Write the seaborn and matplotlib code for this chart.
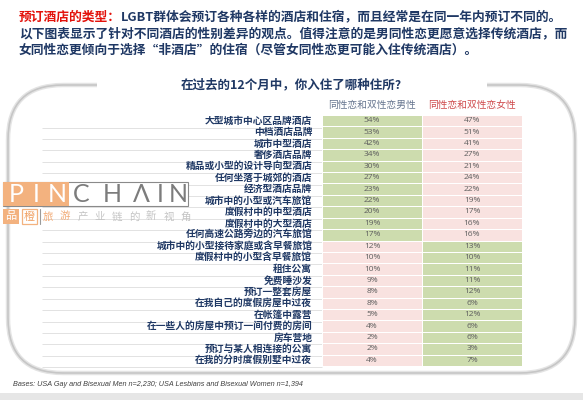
import numpy as np
import pandas as pd
import matplotlib
matplotlib.use("Agg")
import matplotlib.pyplot as plt
from matplotlib.colors import ListedColormap
from matplotlib.patches import FancyBboxPatch, Rectangle
import seaborn as sns

# ---------------- data ----------------
categories = [
    "大型城市中心区品牌酒店", "中档酒店品牌", "城市中型酒店", "奢侈酒店品牌",
    "精品或小型的设计导向型酒店", "任何坐落于城郊的酒店", "经济型酒店品牌",
    "城市中的小型或汽车旅馆", "度假村中的中型酒店", "度假村中的大型酒店",
    "任何高速公路旁边的汽车旅馆", "城市中的小型接待家庭或含早餐旅馆",
    "度假村中的小型含早餐旅馆", "租住公寓", "免费睡沙发", "预订一整套房屋",
    "在我自己的度假房屋中过夜", "在帐篷中露营", "在一些人的房屋中预订一间付费的房间",
    "房车营地", "预订与某人相连接的公寓", "在我的分时度假别墅中过夜",
]
men = [54, 53, 42, 34, 30, 27, 23, 22, 20, 19, 17, 12, 10, 10, 9, 8, 8, 5, 4, 2, 2, 4]
women = [47, 51, 41, 27, 21, 24, 22, 19, 17, 16, 16, 13, 10, 11, 11, 12, 6, 12, 6, 6, 3, 7]
highlight = ["men"] * 11 + ["women"] * 11
columns = ["同性恋和双性恋男性", "同性恋和双性恋女性"]

title_red = "预订酒店的类型："
title_l1 = "LGBT群体会预订各种各样的酒店和住宿，而且经常是在同一年内预订不同的。"
title_l2 = "以下图表显示了针对不同酒店的性别差异的观点。值得注意的是男同性恋更愿意选择传统酒店，而"
title_l3 = "女同性恋更倾向于选择“非酒店”的住宿（尽管女同性恋更可能入住传统酒店）。"
chart_title = "在过去的12个月中，你入住了哪种住所?"
footer = "Bases: USA Gay and Bisexual Men n=2,230; USA Lesbians and Bisexual Women n=1,394"

# ---------------- style ----------------
sns.set_style("white")
plt.rcParams["font.family"] = ["Noto Sans CJK SC", "DejaVu Sans"]

NAVY = "#1f3864"
RED = "#e3120b"
GREEN = "#cddcae"
PINK = "#f9e2e0"
W, H = 583, 400

fig = plt.figure(figsize=(W / 100, H / 100), dpi=100)

# background overlay in pixel coordinates
bg = fig.add_axes([0, 0, 1, 1], zorder=0)
bg.set_xlim(0, W)
bg.set_ylim(H, 0)
bg.axis("off")

# rounded frame
bg.add_patch(FancyBboxPatch((8, 85), 567, 288, boxstyle="round,pad=0,rounding_size=55",
                            fill=False, ec="#e4e4e4", lw=3.2))
bg.add_patch(FancyBboxPatch((8, 85), 567, 288, boxstyle="round,pad=0,rounding_size=55",
                            fill=False, ec="#c6c6c6", lw=1.2))
bg.add_patch(Rectangle((97, 78), 390, 14, fc="white", ec="none"))
bg.add_patch(Rectangle((0, 393), W, 7, fc="#e6e6e6", ec="none"))

# titles
t_red = bg.text(19, 17, title_red, color=RED, fontsize=9.2, fontweight="bold",
                ha="left", va="center")
bg.annotate(title_l1, xy=(1, 0.5), xycoords=t_red, color=NAVY, fontsize=9.2,
            fontweight="bold", ha="left", va="center")
bg.text(19, 33.5, title_l2, color=NAVY, fontsize=9.2, fontweight="bold", ha="left", va="center")
bg.text(19, 50, title_l3, color=NAVY, fontsize=9.2, fontweight="bold", ha="left", va="center")
bg.text(291, 85, chart_title, color=NAVY, fontsize=9, fontweight="bold", ha="center", va="center")
bg.text(13, 385, footer, color="#404040", fontsize=5.2, style="italic",
        family=["Liberation Sans", "DejaVu Sans"], ha="left", va="center")

# ---------------- heatmap ----------------
cat = pd.DataFrame({columns[0]: [1 if h == "men" else 0 for h in highlight],
                    columns[1]: [1 if h == "women" else 0 for h in highlight]},
                   index=categories)
annot = pd.DataFrame({columns[0]: [f"{v}%" for v in men],
                      columns[1]: [f"{v}%" for v in women]}, index=categories)

ax = fig.add_axes([322 / W, 34 / H, 200 / W, 251 / H], zorder=2)
sns.heatmap(cat, cmap=ListedColormap([PINK, GREEN]), vmin=0, vmax=1, cbar=False,
            annot=annot, fmt="", linewidths=0.6, linecolor="white", ax=ax,
            xticklabels=True, yticklabels=True,
            annot_kws={"fontsize": 6, "color": "#5e5e5e",
                       "family": ["Open Sans", "DejaVu Sans"]})
ax.set_ylabel("")
ax.set_xlabel("")
for lbl in ax.get_yticklabels():
    lbl.set_rotation(0)
    lbl.set_fontsize(7)
    lbl.set_fontweight("bold")
    lbl.set_color(NAVY)
ax.tick_params(axis="y", length=0, pad=7)
ax.xaxis.tick_top()
for lbl, c in zip(ax.get_xticklabels(), ["#66758f", "#cf4a4c"]):
    lbl.set_rotation(0)
    lbl.set_fontsize(7)
    lbl.set_color(c)
ax.tick_params(axis="x", length=0, pad=3.5)

# faint guide lines behind row labels
ax.hlines(np.arange(1, len(categories) + 1) + 0.1, xmin=-1.4, xmax=0,
          transform=ax.get_yaxis_transform(), clip_on=False, color="#e2e2e2", lw=0.7,
          zorder=0)

# ---------------- watermark ----------------
fg = fig.add_axes([0, 0, 1, 1], zorder=3)
fg.set_xlim(0, W)
fg.set_ylim(H, 0)
fg.axis("off")
fg.patch.set_alpha(0)
fg.add_patch(Rectangle((3, 182), 185, 24, fc="white", ec="#8a8a8a", lw=0.8))
fg.add_patch(Rectangle((3, 182), 66, 24, fc="#f3b27f", ec="none"))
letters = ["P", "I", "N", "C", "H", "Λ", "I", "N"]
lx = [16, 36, 57, 81, 112, 141, 160, 178]
for i, (ch, x) in enumerate(zip(letters, lx)):
    fg.text(x, 194.5, ch, fontsize=18, fontweight="normal",
            color="white" if i < 3 else "#7c7c7c",
            family=["Lato", "DejaVu Sans"], ha="center", va="center")
fg.add_patch(Rectangle((3, 209), 16, 15, fc="#f3b27f", ec="none"))
fg.text(11, 216.5, "品", fontsize=8, color="white", ha="center", va="center")
fg.add_patch(Rectangle((22, 209), 15, 15, fc="white", ec="#f3b27f", lw=0.9))
fg.text(29.5, 216.5, "橙", fontsize=8, color="#f0a062", ha="center", va="center")
fg.plot([39.5, 39.5], [209, 224], color="#9a9a9a", lw=0.8)
for i, ch in enumerate("旅游产业链的新视角"):
    fg.text(48 + 17.2 * i, 216.5, ch, fontsize=7.5, color="#f2ac78" if i < 2 else "#c4c4c4",
            ha="center", va="center")

fig.savefig("out.png", dpi=100)
